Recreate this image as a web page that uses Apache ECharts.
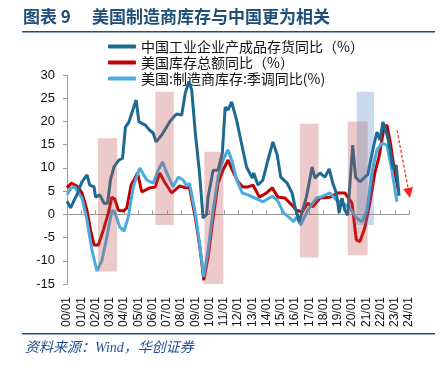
<!DOCTYPE html>
<html>
<head>
<meta charset="utf-8">
<script src="https://cdn.jsdelivr.net/npm/echarts@6/dist/echarts.min.js"></script>
<style>
html, body { margin: 0; padding: 0; background: #fff; }
#chart { width: 442px; height: 365px; }
</style>
</head>
<body>
<div id="chart"></div>
<script>
// x = years since 2000/01
var xLabels = ['00/01', '01/01', '02/01', '03/01', '04/01', '05/01', '06/01', '07/01', '08/01', '09/01', '10/01', '11/01',
    '12/01', '13/01', '14/01', '15/01', '16/01', '17/01', '18/01', '19/01', '20/01', '21/01', '22/01', '23/01', '24/01'];

var seriesNames = ['中国工业企业产成品存货同比（%）', '美国库存总额同比（%）', '美国:制造商库存:季调同比(%)'];

//中国工业企业产成品存货同比
var chinaInv = [[0, 2.8], [0.25, 1.4], [0.5, 3.0], [0.75, 4.6], [1.05, 7.0], [1.4, 8.5], [1.6, 6.3], [1.9, 5.9], [2.0, 3.7],
    [2.3, 4.2], [2.6, 2.4], [2.85, 2.4], [3.05, 7.4], [3.3, 10.2], [3.65, 11.7], [3.9, 12.1], [4.1, 18.8], [4.35, 19.9],
    [4.55, 21.8], [4.85, 24.6], [5.05, 19.9], [5.5, 19.2], [5.8, 18.1], [6.05, 17.5], [6.25, 15.6], [6.65, 17.1], [7.2, 19.9],
    [7.5, 21.0], [7.7, 21.6], [8.05, 21.4], [8.3, 26.1], [8.55, 28.6], [8.75, 26.8], [9.0, 17.7], [9.3, 8.9], [9.55, -0.8],
    [9.8, 0.0], [9.9, 3.7], [10.25, 9.5], [10.6, 9.5], [10.9, 13.2], [11.1, 23.1], [11.3, 22.5], [11.55, 24.2], [11.9, 20.3],
    [12.3, 14.5], [12.6, 10.2], [13.0, 7.8], [13.1, 8.9], [13.4, 6.3], [13.75, 7.4], [14.1, 11.7], [14.45, 15.6], [14.75, 12.8],
    [15.0, 8.0], [15.45, 6.7], [15.8, 4.6], [16.0, 1.6], [16.3, -1.6], [16.8, 3.7], [17.2, 10.2], [17.4, 7.8], [17.75, 8.9],
    [18.1, 8.0], [18.4, 9.8], [18.65, 6.7], [18.9, 4.6], [19.1, 0.3], [19.3, 3.5], [19.5, 0.9], [19.7, -0.2], [20.05, 14.9],
    [20.25, 8.0], [20.56, 7.0], [20.9, 8.0], [21.1, 8.5], [21.5, 14.5], [21.75, 17.7], [21.96, 16.0], [22.17, 19.9],
    [22.3, 18.8], [22.5, 16.6], [22.7, 13.5], [22.88, 9.8], [23.1, 10.6], [23.3, 4.0]];

//美国库存总额同比
var usTotal = [[0, 5.7], [0.3, 6.7], [0.7, 6.1], [1.05, 4.6], [1.4, 0.9], [1.65, -3.4], [1.9, -6.6], [2.2, -6.6], [2.55, -3.4],
    [2.9, 0.3], [3.15, 3.7], [3.35, 3.3], [3.6, 0.9], [3.95, 0.7], [4.2, 1.4], [4.5, 6.3], [4.77, 7.8], [4.95, 8.9], [5.25, 4.8],
    [5.8, 5.7], [6.2, 5.9], [6.5, 8.9], [6.9, 6.7], [7.35, 4.6], [7.9, 6.1], [8.35, 5.7], [8.6, 5.7], [9.0, -0.6], [9.35, -7.7],
    [9.6, -14.2], [9.9, -9.2], [10.25, -0.8], [10.6, 6.7], [10.95, 9.5], [11.3, 11.7], [11.6, 9.5], [12.0, 7.0], [12.35, 5.9],
    [12.7, 5.9], [13.05, 6.3], [13.5, 3.7], [14.0, 4.6], [14.4, 5.7], [14.8, 3.7], [15.3, 3.5], [15.85, 1.8], [16.1, 0.9],
    [16.5, 0.5], [16.9, 2.4], [17.25, 1.6], [17.75, 3.5], [18.45, 3.7], [19.0, 4.6], [19.5, 4.6], [20.0, 2.4], [20.3, -5.5],
    [20.55, -5.9], [20.9, -2.9], [21.25, 2.4], [21.6, 8.9], [21.9, 12.4], [22.25, 18.8], [22.45, 19.2], [22.7, 15.3],
    [23.0, 8.9], [23.25, 5.2]];

//美国:制造商库存:季调同比
var usMfg = [[0, 4.2], [0.3, 5.7], [0.55, 5.9], [1.05, 3.5], [1.4, -1.2], [1.75, -7.7], [2.1, -12.2], [2.45, -9.9],
    [2.8, -4.9], [3.15, 0.9], [3.35, 0.5], [3.7, -2.7], [4.0, -3.6], [4.3, -0.6], [4.65, 5.9], [5.1, 10.0], [5.6, 7.4],
    [6.05, 6.7], [6.4, 9.5], [6.7, 11.3], [7.0, 8.9], [7.45, 5.9], [7.8, 8.0], [8.15, 7.4], [8.4, 6.1], [8.6, 6.7], [9.0, 0.3],
    [9.3, -6.2], [9.6, -13.5], [9.9, -7.7], [10.25, 0.9], [10.6, 8.0], [10.95, 11.7], [11.3, 13.9], [11.6, 11.3], [11.9, 7.4],
    [12.3, 4.6], [12.7, 4.2], [13.2, 3.5], [13.75, 2.7], [14.4, 3.9], [14.75, 3.1], [15.2, 0.3], [15.65, -0.8], [15.9, -1.6],
    [16.1, -0.6], [16.4, -2.3], [16.9, 0.9], [17.5, 3.5], [17.95, 3.9], [18.45, 4.6], [18.9, 3.1], [19.35, 2.4], [19.85, 1.4],
    [20.3, -0.8], [20.7, -1.6], [21.05, 0.9], [21.4, 8.9], [21.75, 13.9], [22.1, 15.3], [22.45, 14.9], [22.8, 9.5], [23.15, 2.7]];

// shaded periods: [x0, yTop, x1, yBottom]
var pinkZones = [[2.18, 16.4, 3.51, -12.3], [6.2, 26.4, 7.49, -2.3], [9.64, 13.5, 10.97, -15], [16.35, 19.5, 17.64, -9.3],
    [19.7, 20.0, 21.1, -8.8]];
var blueZones = [[20.33, 26.4, 21.54, -2.3]];

// trend arrow (year, %)
var arrowFrom = [23.16, 18.1];
var arrowTo = [24.0, 4.6];

var chart = echarts.init(document.getElementById('chart'));

var zoneData = [];
pinkZones.forEach(function (z) {
    zoneData.push([{ coord: [z[0], z[1]], itemStyle: { color: 'rgba(192,80,77,0.3)' } }, { coord: [z[2], z[3]] }]);
});
blueZones.forEach(function (z) {
    zoneData.push([{ coord: [z[0], z[1]], itemStyle: { color: 'rgba(79,129,189,0.3)' } }, { coord: [z[2], z[3]] }]);
});

var option = {
    animation: false,
    textStyle: { fontFamily: 'Liberation Sans, Arial, sans-serif' },
    grid: { left: 67, right: 33, top: 75, bottom: 81 },
    legend: {
        data: seriesNames,
        orient: 'vertical',
        left: 103,
        top: 34,
        icon: 'roundRect',
        itemWidth: 28,
        itemHeight: 4,
        itemGap: 1,
        textStyle: { fontFamily: 'Noto Sans CJK SC', fontSize: 14, color: '#111', lineHeight: 15 }
    },
    xAxis: [{
        type: 'value',
        min: 0,
        max: 24,
        interval: 1,
        position: 'bottom',
        axisLine: { show: false, onZero: false },
        axisTick: { show: false },
        splitLine: { show: false },
        axisLabel: {
            rotate: 90,
            fontSize: 12,
            color: '#111',
            margin: 13,
            formatter: function (v) { return xLabels[v]; }
        }
    }, {
        type: 'value',
        min: 0,
        max: 24,
        interval: 1,
        position: 'bottom',
        axisLine: { show: true, onZero: true, lineStyle: { color: '#999', width: 1 } },
        axisTick: { show: true, inside: true, length: 4, lineStyle: { color: '#999' } },
        axisLabel: { show: false },
        splitLine: { show: false }
    }],
    yAxis: {
        type: 'value',
        min: -15,
        max: 30,
        interval: 5,
        axisLine: { show: true, lineStyle: { color: '#999' } },
        axisTick: { show: true, length: 4, lineStyle: { color: '#999' } },
        axisLabel: { fontSize: 13, color: '#111', margin: 12 },
        splitLine: { show: false }
    },
    series: [{
        name: seriesNames[0],
        type: 'line',
        data: chinaInv,
        symbol: 'none',
        z: 4,
        lineStyle: { color: '#1D6A91', width: 3 },
        itemStyle: { color: '#1D6A91' }
    }, {
        name: seriesNames[1],
        type: 'line',
        data: usTotal,
        symbol: 'none',
        z: 2,
        lineStyle: { color: '#C00000', width: 3 },
        itemStyle: { color: '#C00000' }
    }, {
        name: seriesNames[2],
        type: 'line',
        data: usMfg,
        symbol: 'none',
        z: 3,
        lineStyle: { color: '#4AABE0', width: 3 },
        itemStyle: { color: '#4AABE0' }
    }, {
        name: 'zones',
        type: 'line',
        data: [],
        z: 10,
        clip: false,
        markArea: { silent: true, z: 10, data: zoneData },
        markLine: {
            silent: true,
            symbol: ['none', 'triangle'],
            symbolSize: 10,
            label: { show: false },
            lineStyle: { color: '#FF2020', type: [3, 2], width: 1.2 },
            data: [[{ coord: arrowFrom }, { coord: arrowTo }]]
        }
    }],
    graphic: [{
        type: 'text', left: 23, top: 8,
        style: { text: '图表 9', font: 'bold 17px "Noto Sans CJK SC"', fill: '#1F4E79' }
    }, {
        type: 'text', left: 92, top: 8,
        style: { text: '美国制造商库存与中国更为相关', font: 'bold 17px "Noto Sans CJK SC"', fill: '#1F4E79' }
    }, {
        type: 'rect', shape: { x: 22, y: 31, width: 413, height: 1.5 }, style: { fill: '#1F4E79' }
    }, {
        type: 'rect', shape: { x: 22, y: 333, width: 413, height: 1.5 }, style: { fill: '#1F4E79' }
    }, {
        type: 'text', left: 25, top: 341,
        style: { text: '资料来源：Wind，华创证券', font: 'italic 14px "Liberation Serif", "Noto Sans CJK SC"', fill: '#1F4E99' }
    }]
};

chart.setOption(option);
</script>
</body>
</html>
